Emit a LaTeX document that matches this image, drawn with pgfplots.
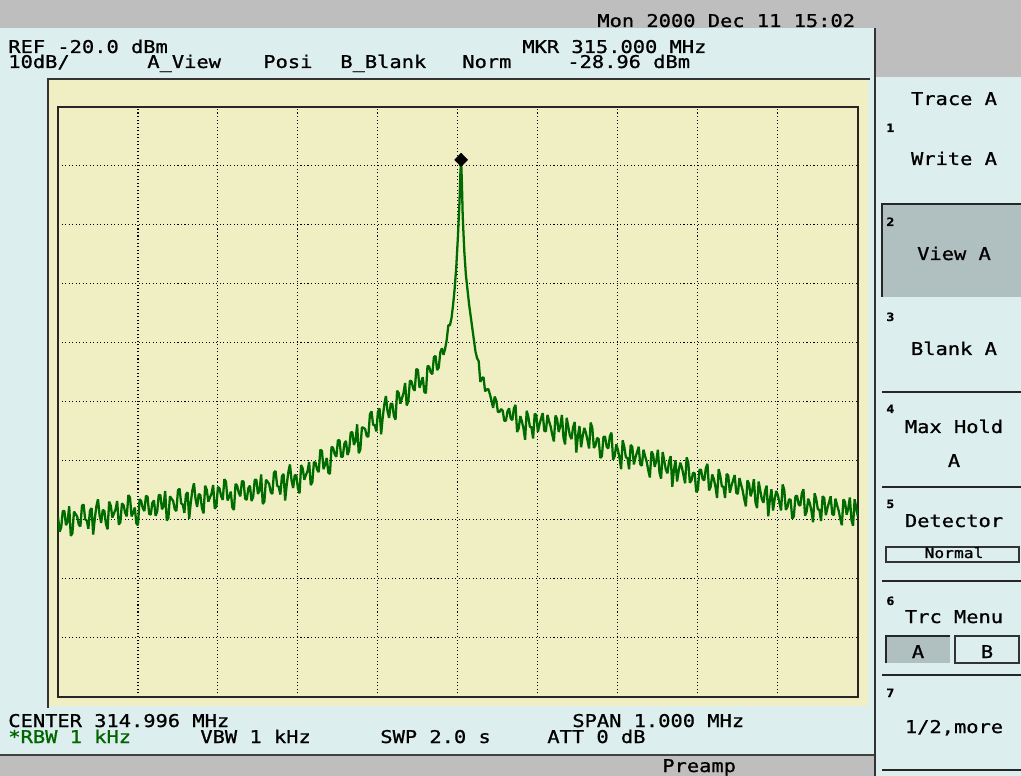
\documentclass[border=0pt]{standalone}
\usepackage{fontspec}
\usepackage{pgfplots}
\pgfplotsset{compat=1.18}
\setmainfont{DejaVu Sans Mono}[FakeStretch=1.16, FakeBold=1]
\newcommand\scr{\fontsize{10}{11}\selectfont}
\newcommand\knum{\fontsize{6.5}{7}\selectfont\bfseries}
\definecolor{scrbg}{RGB}{221,238,238}
\definecolor{plotbg}{RGB}{240,239,196}
\definecolor{bargrey}{RGB}{190,190,190}
\definecolor{keygrey}{RGB}{176,192,192}
\definecolor{trace}{RGB}{0,108,0}
\definecolor{rbwgreen}{RGB}{0,100,0}

\begin{document}
\begin{tikzpicture}
\begin{scope}[x=0.02cm,y=-0.02cm,every node/.style={font=\scr,inner sep=0pt}]
\path[use as bounding box] (0,0) rectangle (1021,776);
% screen background
\fill[scrbg] (0,0) rectangle (1021,776);
\fill[bargrey] (0,0) rectangle (1021,28);
\fill[bargrey] (876,28) rectangle (1021,77);
\fill[bargrey] (0,755) rectangle (875,776);
\draw[line width=0.8pt,black!75] (0,755) -- (875,755);
\fill[plotbg] (49,80) rectangle (868,706);
\draw[line width=1.1pt,black!80] (48,708) -- (48,79) -- (870,79);
\draw[line width=1.1pt,black!80] (875,28) -- (875,776);
% header
\node[anchor=base west] at (597,27) {Mon 2000 Dec 11 15:02};
\node[anchor=base west] at (8,53) {REF -20.0 dBm};
\node[anchor=base west] at (8,68) {10dB/};
\node[anchor=base west] at (147,68) {A\_View};
\node[anchor=base west] at (263,68) {Posi};
\node[anchor=base west] at (340,68) {B\_Blank};
\node[anchor=base west] at (462,68) {Norm};
\node[anchor=base west] at (522,53) {MKR 315.000 MHz};
\node[anchor=base west] at (567,68) {-28.96 dBm};
% footer
\node[anchor=base west] at (8,727) {CENTER 314.996 MHz};
\node[anchor=base west,text=rbwgreen] at (8,743) {*RBW 1 kHz};
\node[anchor=base west] at (200,743) {VBW 1 kHz};
\node[anchor=base west] at (380,743) {SWP 2.0 s};
\node[anchor=base west] at (572,727) {SPAN 1.000 MHz};
\node[anchor=base west] at (547,743) {ATT 0 dB};
\node[anchor=base west] at (662,772) {Preamp};
% softkeys
\node[anchor=base] at (954,105) {Trace A};
\fill[keygrey] (882,205) rectangle (1021,297);
\draw[line width=1.6pt,black!85] (882,297) -- (882,204) -- (1021,204);
\foreach \yy in {392,487,581,675,770}
  \draw[line width=1.4pt,black!85] (882,\yy) -- (1021,\yy);
\node[anchor=base west,font=\knum] at (886,132) {1};
\node[anchor=base] at (954,165) {Write A};
\node[anchor=base west,font=\knum] at (886,226) {2};
\node[anchor=base] at (954,260) {View A};
\node[anchor=base west,font=\knum] at (886,321) {3};
\node[anchor=base] at (954,355) {Blank A};
\node[anchor=base west,font=\knum] at (886,413) {4};
\node[anchor=base] at (954,433) {Max Hold};
\node[anchor=base] at (954,467) {A};
\node[anchor=base west,font=\knum] at (886,508) {5};
\node[anchor=base] at (954,527) {Detector};
\draw[line width=0.6pt,black!80] (886,547) rectangle (1019,562);
\node[anchor=base,font=\fontsize{8}{9}\selectfont] at (954,558) {Normal};
\node[anchor=base west,font=\knum] at (886,605) {6};
\node[anchor=base] at (954,623) {Trc Menu};
\fill[keygrey] (886,636) rectangle (950,663);
\draw[line width=1.4pt,black!85] (886,663) -- (886,636) -- (950,636);
\draw[line width=0.6pt,black!80] (955,636) rectangle (1019,663);
\node[anchor=base] at (918,658) {A};
\node[anchor=base] at (987,658) {B};
\node[anchor=base west,font=\knum] at (886,697) {7};
\node[anchor=base] at (954,733) {1/2,more};
\end{scope}

\begin{axis}[
    at={(1.16cm,-13.94cm)}, anchor=south west,
    width=16cm, height=11.8cm, scale only axis,
    xmin=-500, xmax=500, ymin=-120, ymax=-20,
    xtick={-500,-400,...,500}, ytick={-120,-110,...,-20},
    xticklabels={}, yticklabels={},
    major tick length=0pt,
    grid=major,
    major grid style={black, line width=0.6pt, dash pattern=on 0.6pt off 1.4pt},
    axis line style={line width=1.1pt, black!85},
]
% trace A: kHz from centre (314.996 MHz), dBm
\addplot[color=trace, line width=1.3pt, line join=bevel] coordinates {
(-500,-89.4)(-498,-92.0)(-496,-91.3)(-494,-88.5)(-492,-88.5)(-490,-90.9)(-488,-90.3)(-486,-87.7)(-484,-92.7)(-482,-92.3)
(-480,-88.6)(-478,-89.0)(-476,-89.4)(-474,-90.8)(-472,-91.1)(-470,-87.6)(-468,-87.4)(-466,-89.9)(-464,-90.1)(-462,-91.5)
(-460,-88.4)(-458,-88.0)(-456,-92.5)(-454,-89.8)(-452,-87.7)(-450,-86.5)(-448,-89.2)(-446,-90.5)(-444,-88.3)(-442,-88.5)
(-440,-90.7)(-438,-91.6)(-436,-86.9)(-434,-87.6)(-432,-89.6)(-430,-88.9)(-428,-88.2)(-426,-86.8)(-424,-90.8)(-422,-90.4)
(-420,-87.2)(-418,-87.5)(-416,-88.8)(-414,-89.4)(-412,-85.8)(-410,-86.2)(-408,-89.4)(-406,-88.8)(-404,-87.9)(-402,-90.6)
(-400,-90.9)(-398,-86.5)(-396,-86.8)(-394,-88.0)(-392,-88.5)(-390,-85.9)(-388,-86.1)(-386,-89.0)(-384,-89.1)(-382,-87.1)
(-380,-86.7)(-378,-89.3)(-376,-88.6)(-374,-85.8)(-372,-85.8)(-370,-88.2)(-368,-87.7)(-366,-85.1)(-364,-90.1)(-362,-89.7)
(-360,-86.0)(-358,-86.4)(-356,-86.8)(-354,-88.2)(-352,-88.5)(-350,-85.0)(-348,-84.7)(-346,-87.2)(-344,-87.4)(-342,-88.8)
(-340,-85.7)(-338,-85.3)(-336,-89.8)(-334,-87.1)(-332,-85.0)(-330,-83.8)(-328,-86.5)(-326,-87.8)(-324,-85.6)(-322,-85.8)
(-320,-88.0)(-318,-88.9)(-316,-84.2)(-314,-84.9)(-312,-86.9)(-310,-86.2)(-308,-85.5)(-306,-84.1)(-304,-88.1)(-302,-87.7)
(-300,-84.4)(-298,-84.7)(-296,-86.0)(-294,-86.6)(-292,-83.1)(-290,-83.5)(-288,-86.7)(-286,-86.1)(-284,-85.2)(-282,-87.9)
(-280,-88.3)(-278,-83.9)(-276,-84.2)(-274,-85.4)(-272,-86.0)(-270,-83.4)(-268,-83.5)(-266,-86.4)(-264,-86.6)(-262,-84.6)
(-260,-84.2)(-258,-86.8)(-256,-86.1)(-254,-83.2)(-252,-83.2)(-250,-85.6)(-248,-85.0)(-246,-82.3)(-244,-87.3)(-242,-86.9)
(-240,-83.2)(-238,-83.5)(-236,-83.9)(-234,-85.3)(-232,-85.6)(-230,-82.0)(-228,-81.7)(-226,-84.2)(-224,-84.4)(-222,-85.7)
(-220,-82.6)(-218,-82.2)(-216,-86.7)(-214,-84.0)(-212,-81.9)(-210,-80.6)(-208,-83.3)(-206,-84.6)(-204,-82.4)(-202,-82.5)
(-200,-84.7)(-198,-85.5)(-196,-80.7)(-194,-81.3)(-192,-83.2)(-190,-82.4)(-188,-81.7)(-186,-80.2)(-184,-84.1)(-182,-83.6)
(-180,-80.2)(-178,-80.3)(-176,-81.5)(-174,-81.9)(-172,-78.1)(-170,-78.3)(-168,-81.4)(-166,-80.6)(-164,-79.5)(-162,-82.0)
(-160,-82.2)(-158,-77.6)(-156,-77.8)(-154,-78.9)(-152,-79.3)(-150,-76.5)(-148,-76.5)(-146,-79.3)(-144,-79.3)(-142,-77.1)
(-140,-76.6)(-138,-79.0)(-136,-78.2)(-134,-75.2)(-132,-75.1)(-130,-77.3)(-128,-76.6)(-126,-73.8)(-124,-78.7)(-122,-78.1)
(-120,-74.3)(-118,-74.4)(-116,-74.6)(-114,-75.8)(-112,-75.9)(-110,-72.1)(-108,-71.6)(-106,-73.9)(-104,-73.9)(-102,-75.0)
(-100,-71.7)(-98,-71.1)(-96,-75.5)(-94,-72.6)(-92,-70.4)(-90,-69.0)(-88,-71.6)(-86,-72.7)(-84,-70.3)(-82,-70.3)
(-80,-72.4)(-78,-73.0)(-76,-68.1)(-74,-68.5)(-72,-70.3)(-70,-69.4)(-68,-68.5)(-66,-66.8)(-64,-70.6)(-62,-69.9)
(-60,-66.4)(-58,-66.5)(-56,-67.7)(-54,-68.1)(-52,-64.4)(-50,-64.6)(-48,-67.6)(-46,-66.8)(-44,-65.8)(-42,-68.3)
(-40,-68.5)(-38,-63.9)(-36,-64.0)(-34,-65.0)(-32,-65.3)(-30,-62.4)(-28,-62.2)(-26,-64.6)(-24,-64.2)(-22,-61.6)
(-20,-60.9)(-18,-62.0)(-16,-61.0)(-14,-59.5)(-12,-57.0)(-10,-57.0)(-8,-55.8)(-6,-53.5)(-4,-50.7)(-2,-47.0)
(0,-42.0)(2,-36.0)(3,-31.5)(4,-28.96)(5,-33.0)(6,-38.5)
(8,-44.5)(10,-48.5)(12,-51.0)(14,-53.5)(16,-55.5)(18,-57.5)(20,-59.5)(22,-61.5)
(24,-62.6)(26,-63.1)(28,-66.6)(30,-66.0)(32,-65.8)(34,-68.2)(36,-67.9)(38,-67.8)(40,-68.7)(42,-69.8)
(44,-71.0)(46,-69.1)(48,-69.8)(50,-71.7)(52,-71.7)(54,-71.2)(56,-71.5)(58,-73.2)(60,-73.2)(62,-71.6)
(64,-71.1)(66,-72.8)(68,-73.1)(70,-71.1)(72,-70.5)(74,-75.1)(76,-74.5)(78,-72.4)(80,-73.3)(82,-74.5)
(84,-76.4)(86,-71.5)(88,-72.5)(90,-74.2)(92,-74.3)(94,-76.2)(96,-72.0)(98,-72.2)(100,-75.1)(102,-73.8)
(104,-72.8)(106,-71.9)(108,-74.9)(110,-75.0)(112,-72.2)(114,-73.3)(116,-74.2)(118,-75.6)(120,-76.7)(122,-72.3)
(124,-72.9)(126,-75.1)(128,-74.1)(130,-72.2)(132,-76.1)(134,-77.2)(136,-72.7)(138,-74.2)(140,-75.7)(142,-76.3)
(144,-74.3)(146,-73.4)(148,-78.6)(150,-75.8)(152,-74.1)(154,-77.7)(156,-75.8)(158,-74.4)(160,-75.2)(162,-76.5)
(164,-77.9)(166,-73.5)(168,-74.4)(170,-77.8)(172,-77.4)(174,-76.1)(176,-76.3)(178,-79.5)(180,-79.2)(182,-75.9)
(184,-75.9)(186,-77.6)(188,-77.9)(190,-75.8)(192,-75.2)(194,-79.8)(196,-79.2)(198,-77.2)(200,-78.1)(202,-79.4)
(204,-81.4)(206,-76.5)(208,-77.6)(210,-79.4)(212,-79.5)(214,-81.4)(216,-77.3)(218,-77.6)(220,-80.6)(222,-79.4)
(224,-78.5)(226,-77.6)(228,-80.6)(230,-80.8)(232,-78.1)(234,-79.2)(236,-80.1)(238,-81.6)(240,-82.8)(242,-78.4)
(244,-78.9)(246,-81.0)(248,-80.0)(250,-78.1)(252,-82.0)(254,-83.0)(256,-78.5)(258,-80.0)(260,-81.5)(262,-82.1)
(264,-80.1)(266,-79.2)(268,-84.4)(270,-81.6)(272,-79.9)(274,-83.5)(276,-81.7)(278,-80.3)(280,-81.1)(282,-82.4)
(284,-83.8)(286,-79.4)(288,-80.3)(290,-83.7)(292,-83.3)(294,-82.0)(296,-82.1)(298,-85.3)(300,-84.9)(302,-81.5)
(304,-81.5)(306,-83.1)(308,-83.3)(310,-81.2)(312,-80.5)(314,-85.0)(316,-84.4)(318,-82.3)(320,-83.1)(322,-84.4)
(324,-86.3)(326,-81.4)(328,-82.5)(330,-84.3)(332,-84.4)(334,-86.3)(336,-82.2)(338,-82.5)(340,-85.4)(342,-84.2)
(344,-83.3)(346,-82.4)(348,-85.4)(350,-85.6)(352,-82.9)(354,-84.0)(356,-85.0)(358,-86.5)(360,-87.7)(362,-83.3)
(364,-83.9)(366,-86.0)(368,-85.0)(370,-83.1)(372,-87.0)(374,-88.0)(376,-83.5)(378,-85.0)(380,-86.5)(382,-87.1)
(384,-85.1)(386,-84.2)(388,-89.4)(390,-86.6)(392,-84.8)(394,-88.4)(396,-86.5)(398,-85.1)(400,-85.8)(402,-87.1)
(404,-88.4)(406,-84.0)(408,-84.9)(410,-88.3)(412,-87.8)(414,-86.5)(416,-86.6)(418,-89.8)(420,-89.4)(422,-86.0)
(424,-85.9)(426,-87.4)(428,-87.6)(430,-85.5)(432,-84.8)(434,-89.3)(436,-88.6)(438,-86.4)(440,-87.2)(442,-88.5)
(444,-90.4)(446,-85.5)(448,-86.5)(450,-88.2)(452,-88.3)(454,-90.2)(456,-86.0)(458,-86.3)(460,-89.2)(462,-88.0)
(464,-87.0)(466,-86.0)(468,-89.0)(470,-89.2)(472,-86.4)(474,-87.5)(476,-88.4)(478,-89.8)(480,-90.9)(482,-86.5)
(484,-87.0)(486,-89.1)(488,-88.1)(490,-86.2)(492,-90.0)(494,-91.0)(496,-86.5)(498,-88.0)(500,-89.4)
};
% marker at 315.000 MHz, -28.96 dBm
\addplot[only marks, mark=diamond*, mark size=3.7pt, mark options={black, xscale=1.3}] coordinates {(4,-28.96)};
\end{axis}
\end{tikzpicture}
\end{document}
